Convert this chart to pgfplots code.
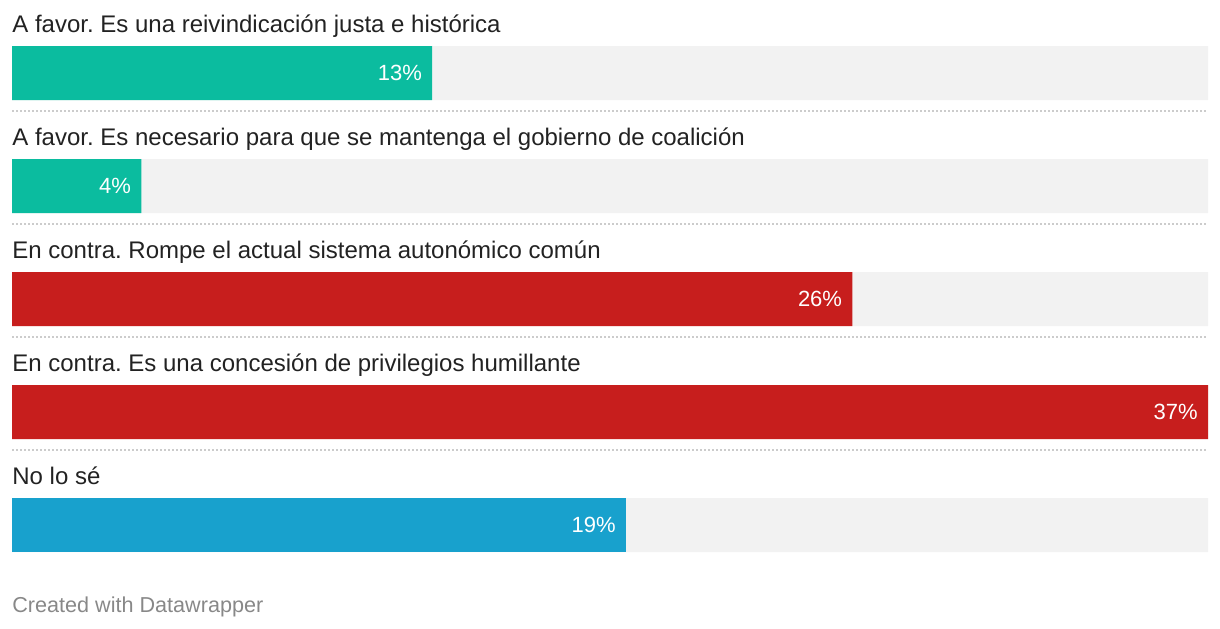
\documentclass[border=0pt]{standalone}
\usepackage{pgfplots}
\pgfplotsset{compat=1.18}
\usepackage{fontspec}
\setmainfont{Liberation Sans}
\frenchspacing
\definecolor{teal}{HTML}{0BBC9F}
\definecolor{dwred}{HTML}{C71E1D}
\definecolor{dwblue}{HTML}{18A1CD}
\definecolor{bggrey}{HTML}{F2F2F2}
\definecolor{txt}{HTML}{222222}
\definecolor{foot}{HTML}{888888}
\definecolor{sep}{HTML}{CCCCCC}
\tikzset{lbl/.style={anchor=base west, inner sep=0pt, text=txt, yshift=20.5pt,
    font=\fontsize{12pt}{14pt}\selectfont},
  sepline/.style={sep, line width=0.8pt, dash pattern=on 1pt off 1pt}}
\pgfplotsset{valstyle/.style={
    nodes near coords={\pgfmathprintnumber[assume math mode=true]{\pgfplotspointmeta}\%},
    nodes near coords style={anchor=east, text=white, xshift=-5pt, inner sep=0pt,
      font=\fontsize{11pt}{13pt}\selectfont}}}
\begin{document}
\begin{tikzpicture}
\begin{axis}[
  scale only axis, width=610pt, height=314pt,
  xmin=-0.37124, xmax=37.37124,
  ymin=-0.64602, ymax=4.91150, y dir=reverse,
  hide axis, clip=false,
  xbar, bar width=27pt, bar shift=0pt,
  point meta=x,
  /pgf/number format/assume math mode=true,
]
% background bars
\addplot[fill=bggrey, draw=none] coordinates {(37,0) (37,1) (37,2) (37,3) (37,4)};
% value bars
\addplot[fill=teal, draw=none, valstyle] coordinates {(13,0) (4,1)};
\addplot[fill=dwred, draw=none, valstyle] coordinates {(26,2) (37,3)};
\addplot[fill=dwblue, draw=none, valstyle] coordinates {(19,4)};
% separators
\draw[sepline] (axis cs:0,0.3363) -- (axis cs:37,0.3363);
\draw[sepline] (axis cs:0,1.3363) -- (axis cs:37,1.3363);
\draw[sepline] (axis cs:0,2.3363) -- (axis cs:37,2.3363);
\draw[sepline] (axis cs:0,3.3363) -- (axis cs:37,3.3363);
% labels
\node[lbl] at (axis cs:0,0) {A favor. Es una reivindicación justa e histórica};
\node[lbl] at (axis cs:0,1) {A favor. Es necesario para que se mantenga el gobierno de coalición};
\node[lbl] at (axis cs:0,2) {En contra. Rompe el actual sistema autonómico común};
\node[lbl] at (axis cs:0,3) {En contra. Es una concesión de privilegios humillante};
\node[lbl] at (axis cs:0,4) {No lo sé};
\node[anchor=base west, inner sep=0pt, text=foot, font=\fontsize{10.8pt}{12pt}\selectfont]
  at (axis cs:0,4.770) {Created with Datawrapper};
\end{axis}
\pgfresetboundingbox
\path[use as bounding box] (0,0) rectangle (610pt,314pt);
\end{tikzpicture}
\end{document}
